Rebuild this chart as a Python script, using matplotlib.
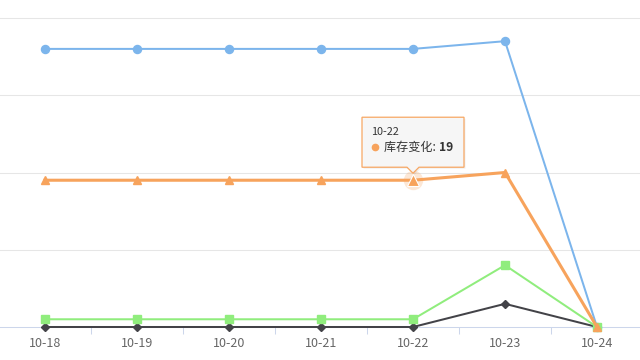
import matplotlib
matplotlib.use("Agg")
import matplotlib.pyplot as plt
from matplotlib.patches import Polygon
from matplotlib.transforms import Affine2D

plt.rcParams['font.family'] = ['Noto Sans CJK SC', 'DejaVu Sans']

dates = ["10-18", "10-19", "10-20", "10-21", "10-22", "10-23", "10-24"]
blue_vals = [36, 36, 36, 36, 36, 37, 0]
black_vals = [0, 0, 0, 0, 0, 3, 0]
green_vals = [1, 1, 1, 1, 1, 8, 0]
stock_change = [19, 19, 19, 19, 19, 20, 0]
stock_name = "库存变化"
hover_idx = 4

W, H = 640, 360
fig = plt.figure(figsize=(W / 100, H / 100), dpi=100)
ax = fig.add_axes([0, 33 / H, 1, 327 / H])

x = list(range(len(dates)))
ax.set_xlim(-45 / 92, (W - 45) / 92)
ax.set_ylim(0, 327 / 7.725)

# grid
ax.set_yticks([10, 20, 30, 40])
ax.yaxis.grid(True, color="#e6e6e6", lw=0.75)
ax.tick_params(axis="y", left=False, labelleft=False)
for s in ["left", "right", "top"]:
    ax.spines[s].set_visible(False)
ax.spines["bottom"].set_color("#ccd6eb")
ax.spines["bottom"].set_linewidth(0.75)

ax.set_xticks(x)
ax.set_xticklabels(dates, color="#666666", fontsize=9)
ax.set_xticks([i + 0.5 for i in x[:-1]], minor=True)
ax.tick_params(axis="x", which="major", length=0, pad=7.5)
ax.tick_params(axis="x", which="minor", length=5, color="#ccd6eb", width=0.75)

ax.plot(x, blue_vals, color="#7cb5ec", lw=1.45, marker="o", ms=5.8, zorder=3, clip_on=False)
ax.plot(x, black_vals, color="#434348", lw=1.45, marker="D", ms=4.2, zorder=3, clip_on=False)
ax.plot(x, green_vals, color="#90ed7d", lw=1.45, marker="s", ms=5.2, zorder=3, clip_on=False)
ax.plot(x, stock_change, color="#f7a35c", lw=2.2, marker="^", ms=5.8, zorder=4, clip_on=False)

# hovered point
hx, hy = x[hover_idx], stock_change[hover_idx]
ax.plot([hx], [hy], marker="o", ms=14, color="#f7a35c", alpha=0.25, mec="none", zorder=4)
ax.plot([hx], [hy], marker="^", ms=8, color="#f7a35c", mec="white", mew=0.8, zorder=5)

# tooltip
fig.canvas.draw()
px, py = ax.transData.transform((hx, hy))
tr = Affine2D().translate(px, py)
w2 = 51
bot, top = 13, 63
shape = [(-w2, bot), (-6, bot), (0, bot - 6), (6, bot), (w2, bot),
         (w2, top), (-w2, top)]
shadow = Polygon([(a + 1.5, b - 1.5) for a, b in shape], closed=True, transform=tr,
                 facecolor="black", alpha=0.06, edgecolor="none", zorder=9)
fig.add_artist(shadow)
box = Polygon(shape, closed=True, transform=tr, facecolor="#f7f7f7", alpha=0.95,
              edgecolor="#f7a35c", lw=0.9, zorder=10)
fig.add_artist(box)

def at(dx, dy):
    return fig.transFigure.inverted().transform((px + dx, py + dy))

fig.text(*at(-42, 48), dates[hover_idx], fontsize=7.8, color="#333333", va="center", zorder=11)
dx0, dy0 = at(-38, 33)
fig.add_artist(plt.Line2D([dx0], [dy0], transform=fig.transFigure, marker="o", ms=4.5,
                          color="#f7a35c", zorder=11))
t1 = fig.text(*at(-29, 33), stock_name + ": ", fontsize=8.7, color="#333333",
              va="center", zorder=11)
fig.canvas.draw()
bb = t1.get_window_extent()
fig.text(*fig.transFigure.inverted().transform((bb.x1, py + 33)), str(hy),
         fontsize=8.7, fontweight="bold", color="#333333", va="center", zorder=11)

fig.savefig("out.png", dpi=100)
